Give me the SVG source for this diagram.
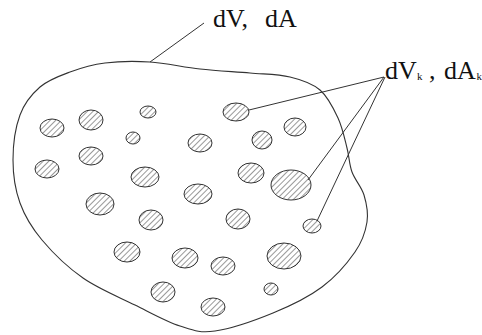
<svg xmlns="http://www.w3.org/2000/svg" width="482" height="335" viewBox="0 0 482 335">
<defs>
<pattern id="hatch" patternUnits="userSpaceOnUse" width="4" height="4" patternTransform="rotate(45)">
<line x1="0" y1="0" x2="0" y2="4" stroke="#333" stroke-width="1"/>
</pattern>
<style>
.outline{fill:none;stroke:#333;stroke-width:1.1}
.blob{fill:url(#hatch);stroke:#333;stroke-width:1}
.lead{stroke:#333;stroke-width:1;fill:none}
.lbl{font-family:"Liberation Serif","Times New Roman",serif;font-size:26px;fill:#111}
.sub{font-size:11px}
</style>
</defs>
<rect width="482" height="335" fill="#fff"/>
<g id="region">
<path class="outline" d="M150,62 C165.8,63 183.3,67.2 200,69 C216.7,70.8 235,71.7 250,73 C265,74.3 278.3,74.2 290,77 C301.7,79.8 312,83.2 320,90 C328,96.8 333.5,108.3 338,118 C342.5,127.7 344.7,139 347,148 C349.3,157 349.2,164.2 352,172 C354.8,179.8 361.5,186.7 364,195 C366.5,203.3 368.5,212.5 367,222 C365.5,231.5 362.5,241.2 355,252 C347.5,262.8 335.7,276.8 322,287 C308.3,297.2 290.8,305.7 273,313 C255.2,320.3 230.5,328.8 215,331 C199.5,333.2 193.3,330.3 180,326 C166.7,321.7 151.2,313 135,305 C118.8,297 98.5,288.8 83,278 C67.5,267.2 52.5,252.5 42,240 C31.5,227.5 24.8,216.3 20,203 C15.2,189.7 13,174.7 13,160 C13,145.3 15.5,127.2 20,115 C24.5,102.8 31.7,94.2 40,87 C48.3,79.8 59.2,76 70,72 C80.8,68 91.7,64.7 105,63 C118.3,61.3 134.2,61 150,62 Z"/>
</g>
<g id="particles">
<ellipse class="blob" cx="148" cy="112" rx="8" ry="6"/>
<ellipse class="blob" cx="236" cy="112" rx="13" ry="9"/>
<ellipse class="blob" cx="52" cy="128" rx="12" ry="9"/>
<ellipse class="blob" cx="91" cy="120" rx="12" ry="10"/>
<ellipse class="blob" cx="133" cy="138" rx="7" ry="6"/>
<ellipse class="blob" cx="200" cy="143" rx="12" ry="9"/>
<ellipse class="blob" cx="262" cy="140" rx="10" ry="9"/>
<ellipse class="blob" cx="295" cy="127" rx="11" ry="9"/>
<ellipse class="blob" cx="47" cy="169" rx="12" ry="9"/>
<ellipse class="blob" cx="91" cy="156" rx="12" ry="9"/>
<ellipse class="blob" cx="145" cy="177" rx="14" ry="10"/>
<ellipse class="blob" cx="251" cy="173" rx="13" ry="10"/>
<ellipse class="blob" cx="291" cy="185" rx="20" ry="15"/>
<ellipse class="blob" cx="100" cy="204" rx="14" ry="11"/>
<ellipse class="blob" cx="198" cy="194" rx="14" ry="10"/>
<ellipse class="blob" cx="151" cy="220" rx="12" ry="10"/>
<ellipse class="blob" cx="238" cy="219" rx="12" ry="10"/>
<ellipse class="blob" cx="312" cy="226" rx="9" ry="7"/>
<ellipse class="blob" cx="127" cy="252" rx="13" ry="10"/>
<ellipse class="blob" cx="185" cy="258" rx="13" ry="10"/>
<ellipse class="blob" cx="223" cy="266" rx="12" ry="9"/>
<ellipse class="blob" cx="284" cy="256" rx="17" ry="13"/>
<ellipse class="blob" cx="163" cy="292" rx="12" ry="10"/>
<ellipse class="blob" cx="271" cy="289" rx="7" ry="6"/>
<ellipse class="blob" cx="213" cy="307" rx="12" ry="9"/>
</g>
<g id="connectors">
<line class="lead" x1="150" y1="62" x2="204" y2="23"/>
<line class="lead" x1="384" y1="77" x2="249" y2="110"/>
<line class="lead" x1="384" y1="77" x2="308" y2="180"/>
<line class="lead" x1="385" y1="77" x2="317" y2="221"/>
</g>
<g id="label-dV">
<text class="lbl" x="213" y="27">dV,<tspan x="265">dA</tspan></text>
</g>
<g id="label-dVk">
<text class="lbl" x="385" y="79">dV<tspan class="sub" x="417" dy="1">k</tspan><tspan x="429" dy="-1">,</tspan><tspan x="444">dA</tspan><tspan class="sub" x="476.5" dy="1">k</tspan></text>
</g>
</svg>
